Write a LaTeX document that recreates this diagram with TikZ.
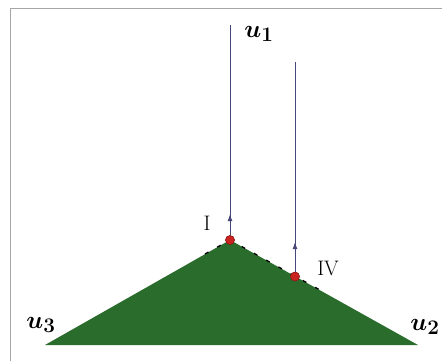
\documentclass[tikz,border=0pt]{standalone}
\usetikzlibrary{arrows.meta,decorations.markings}
\definecolor{leaf}{RGB}{42,108,44}
\definecolor{ray}{RGB}{70,70,120}
\definecolor{dotred}{RGB}{200,35,30}
\begin{document}
\begin{tikzpicture}[x=1pt,y=-1pt,
  raystyle/.style={draw=ray,line width=0.8pt,postaction={decorate},
    decoration={markings,mark=at position #1 with {\arrow{Latex[length=7pt,width=5pt]}}}},
  reddot/.style={circle,fill=dotred,draw=dotred!70!black,inner sep=0pt,minimum size=9pt},
  lab/.style={font=\fontsize{28}{30}\selectfont\boldmath},
  rom/.style={font=\fontsize{21}{23}\selectfont}]
\useasboundingbox (0,0) rectangle (442,361);
\fill[white] (0,0) rectangle (442,361);
\draw[gray!70,line width=0.8pt] (10,361) -- (10,8) -- (442,8);
\coordinate (A) at (230,240);
\coordinate (B) at (418,345);
\coordinate (C) at (45,345);
\fill[leaf] (A) -- (B) -- (C) -- cycle;
\coordinate (L) at (205,254);
\coordinate (R) at (320,290);
\draw[black,dashed,dash pattern=on 4pt off 10pt,line width=1.3pt] (L) -- (A) -- (R);
\coordinate (T1) at (230,25);
\coordinate (T2) at (295,62);
\node[reddot] (I) at (A) {};
\node[reddot] (IV) at (295,276.5) {};
\draw[raystyle=0.12] (A) -- (T1);
\draw[raystyle=0.16] (IV.center) -- (T2);
\node[reddot] at (A) {};
\node[reddot] at (295,276.5) {};
\node[lab] (u1) at (259,34) {$u_1$};
\node[lab] (u2) at (425,327) {$u_2$};
\node[lab] (u3) at (41,325) {$u_3$};
\node[rom] (lI) at (207,223) {I};
\node[rom] (lIV) at (328,268) {IV};
\end{tikzpicture}
\end{document}
